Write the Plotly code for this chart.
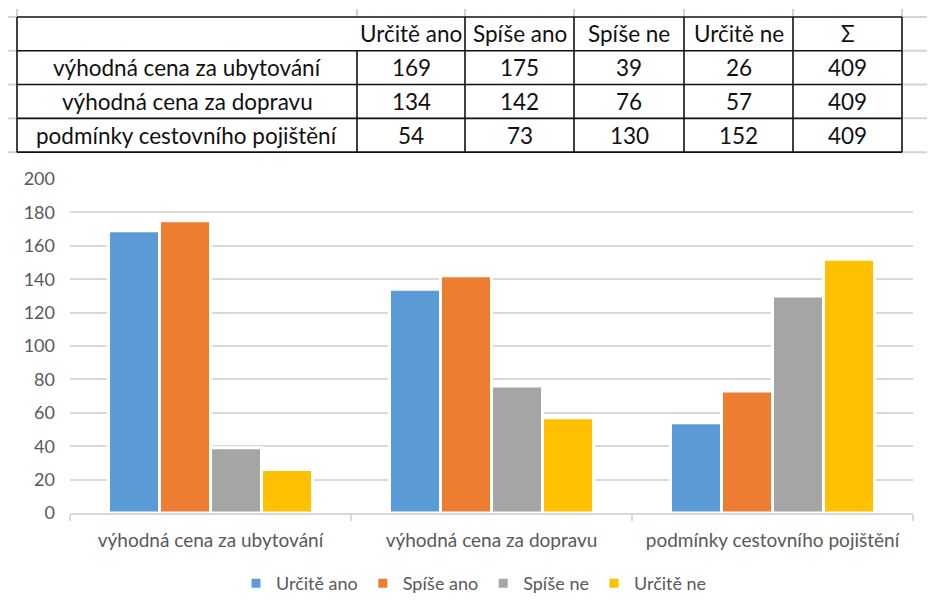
import plotly.graph_objects as go

# ---- data ----
categories = ["výhodná cena za ubytování", "výhodná cena za dopravu", "podmínky cestovního pojištění"]
series_names = ["Určitě ano", "Spíše ano", "Spíše ne", "Určitě ne"]
urcite_ano = [169, 134, 54]
spise_ano = [175, 142, 73]
spise_ne = [39, 76, 130]
urcite_ne = [26, 57, 152]
totals = [409, 409, 409]
sum_label = "Σ"
y_ticks = [0, 20, 40, 60, 80, 100, 120, 140, 160, 180, 200]

colors = ["#5B9BD5", "#ED7D31", "#A5A5A5", "#FFC000"]
series_values = [urcite_ano, spise_ano, spise_ne, urcite_ne]

# the page body has an 8px margin; the figure is sized so it ends at the window edge
OFF = 8
W, H = 935 - OFF, 614 - OFF
L, R, T, B = 70 - OFF, 22, 179 - OFF, 99
PW, PH = W - L - R, H - T - B

def px(x):
    """page pixel x -> paper coordinate"""
    return (x - OFF - L) / PW

def py(y):
    """page pixel y -> paper coordinate"""
    return (H - B - (y - OFF)) / PH

fig = go.Figure()
for name, vals, col in zip(series_names, series_values, colors):
    fig.add_trace(go.Bar(
        x=categories, y=vals, name=name,
        marker=dict(color=col, line=dict(color="white", width=3)),
        hoverinfo="skip",
    ))

FONT = "Lato, 'Open Sans', sans-serif"
fig.update_layout(
    width=W, height=H, autosize=False,
    margin=dict(l=L, r=R, t=T, b=B),
    paper_bgcolor="white", plot_bgcolor="white",
    barmode="group", bargap=0.274, bargroupgap=0,
    font=dict(family=FONT, color="#595959"),
    showlegend=True,
    legend=dict(orientation="h", x=px(474), xanchor="center", y=py(586), yanchor="middle",
                font=dict(size=18, color="#595959"), itemwidth=30, tracegroupgap=0),
    xaxis=dict(type="category", showline=True, linecolor="#D9D9D9", linewidth=1.5,
               ticks="outside", tickson="boundaries", ticklen=6, tickcolor="#D9D9D9",
               tickwidth=1.5, showgrid=False, tickfont=dict(size=19, color="#595959"),
               ticklabelstandoff=9),
    yaxis=dict(range=[0, 200], tickvals=y_ticks, showgrid=True, gridcolor="#D9D9D9",
               gridwidth=1.5, zeroline=False, showline=False, ticks="",
               tickfont=dict(size=18, color="#595959"), ticklabelstandoff=14),
)

shapes = []
# Excel sheet gridlines (light gray) outside the table
GRID = "#D4D4D4"
row_lines = [16, 50, 84, 118, 152]
col_lines = [17, 357, 465, 574, 684, 793, 902]
for yy in row_lines:
    shapes.append(dict(type="line", xref="paper", yref="paper", x0=px(OFF), x1=px(17), y0=py(yy), y1=py(yy),
                       line=dict(color=GRID, width=2)))
    shapes.append(dict(type="line", xref="paper", yref="paper", x0=px(902), x1=px(935), y0=py(yy), y1=py(yy),
                       line=dict(color=GRID, width=2)))
for xx in col_lines:
    shapes.append(dict(type="line", xref="paper", yref="paper", x0=px(xx), x1=px(xx), y0=py(OFF), y1=py(16),
                       line=dict(color=GRID, width=2)))

# Table borders
BLK = "#111111"
BW = 1.6
for yy in row_lines:
    shapes.append(dict(type="line", xref="paper", yref="paper", x0=px(17), x1=px(902), y0=py(yy), y1=py(yy),
                       line=dict(color=BLK, width=BW)))
for xx in col_lines:
    top = 50 if xx == 357 else 16
    shapes.append(dict(type="line", xref="paper", yref="paper", x0=px(xx), x1=px(xx), y0=py(top), y1=py(152),
                       line=dict(color=BLK, width=BW)))

annotations = []
TFONT = dict(family=FONT, size=22.5, color="#111111")
header = series_names + [sum_label]
col_centers = [(col_lines[i] + col_lines[i + 1]) / 2 for i in range(len(col_lines) - 1)]
row_centers = [(row_lines[i] + row_lines[i + 1]) / 2 for i in range(len(row_lines) - 1)]
for j, h in enumerate(header):
    annotations.append(dict(text=h, xref="paper", yref="paper", x=px(col_centers[j + 1]), y=py(row_centers[0]),
                            xanchor="center", yanchor="middle", showarrow=False, font=TFONT))
for i, cat in enumerate(categories):
    rowvals = [urcite_ano[i], spise_ano[i], spise_ne[i], urcite_ne[i], totals[i]]
    annotations.append(dict(text=cat, xref="paper", yref="paper", x=px(col_centers[0]), y=py(row_centers[i + 1]),
                            xanchor="center", yanchor="middle", showarrow=False, font=TFONT))
    for j, v in enumerate(rowvals):
        annotations.append(dict(text=str(v), xref="paper", yref="paper", x=px(col_centers[j + 1]),
                                y=py(row_centers[i + 1]), xanchor="center", yanchor="middle",
                                showarrow=False, font=TFONT))

fig.update_layout(shapes=shapes, annotations=annotations)
fig.write_html("out.html")
